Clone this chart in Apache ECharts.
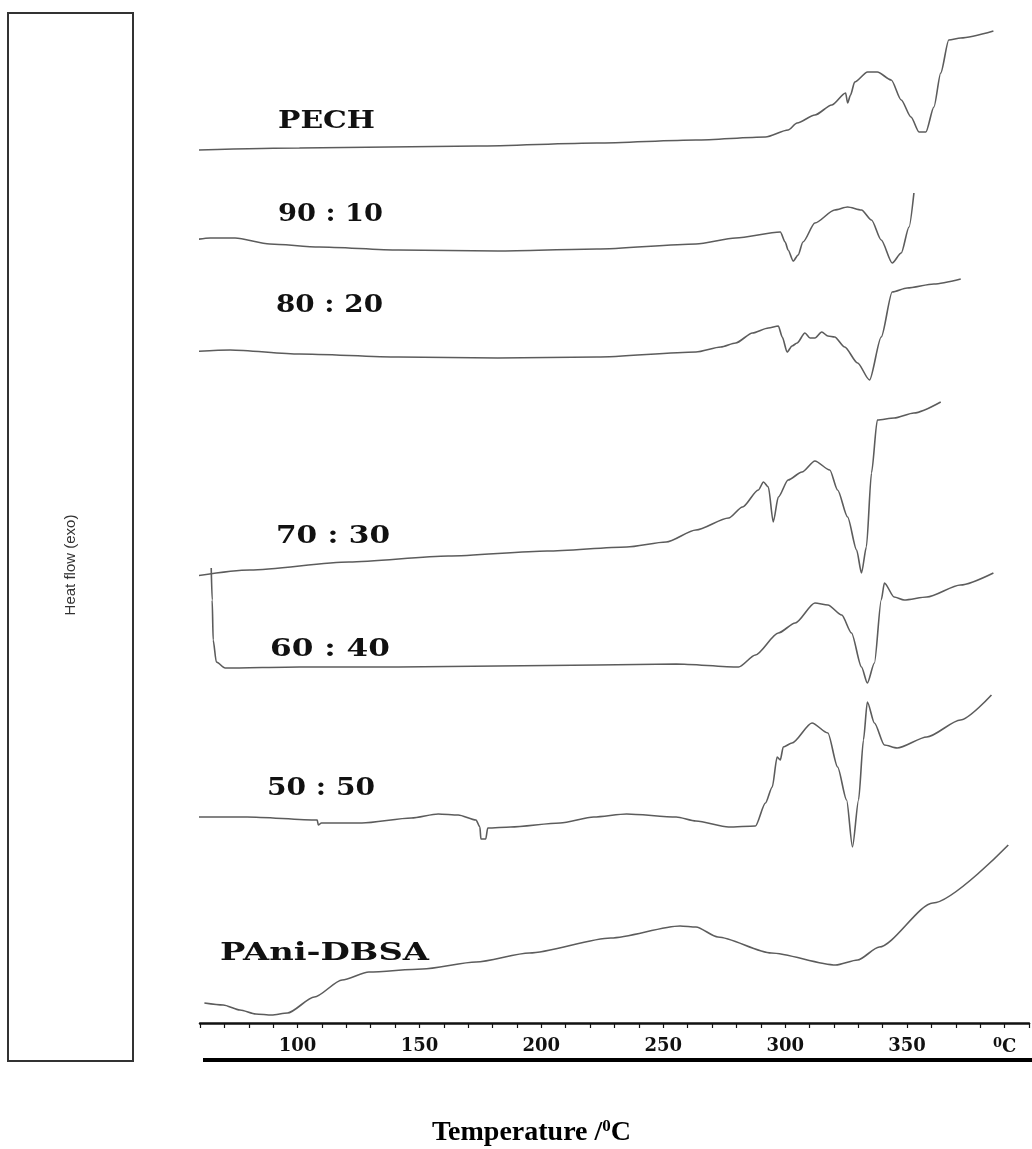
<!DOCTYPE html>
<html>
<head>
<meta charset="utf-8">
<script src="https://cdn.jsdelivr.net/npm/echarts@6/dist/echarts.min.js"></script>
<style>
  html, body { margin: 0; padding: 0; background: #fff; }
  #chart { width: 1032px; height: 1149px; }
</style>
</head>
<body>
<div id="chart"></div>
<script>
// DSC thermograms: [temperature in °C, heat flow (exo up), traces stacked with offsets]
const pech = [
  [58.9, 873], [100.8, 875], [174.0, 877], [222.8, 880], [263.4, 883], [291.9, 886],
  [301.2, 893], [304.9, 900], [312.2, 908], [319.1, 918], [324.8, 930], [325.6, 920],
  [326.8, 928], [328.5, 941], [333.8, 951], [337.8, 951], [343.5, 943], [347.6, 923],
  [351.6, 906], [354.9, 891], [357.7, 891], [361.0, 916], [363.8, 950], [367.1, 983],
  [372.0, 985], [385.4, 992]
];
const blend9010 = [
  [54.9, 782], [64.2, 785], [74.4, 785], [88.6, 779], [108.9, 776], [141.5, 773],
  [182.1, 772], [222.8, 774], [263.4, 779], [279.7, 785], [298.0, 791], [300.0, 781],
  [301.2, 773], [303.3, 762], [305.3, 768], [307.3, 781], [312.2, 800], [320.3, 813],
  [325.6, 816], [331.3, 813], [335.4, 803], [339.4, 783], [343.9, 760], [347.6, 770],
  [350.8, 796], [352.8, 830]
];
const blend8020 = [
  [54.9, 671], [72.4, 673], [100.8, 669], [141.5, 666], [182.1, 665], [222.8, 666],
  [263.4, 671], [273.6, 676], [279.7, 680], [286.6, 690], [293.1, 695], [297.2, 697],
  [298.8, 686], [300.8, 671], [302.8, 677], [304.9, 680], [308.1, 690], [310.2, 685],
  [312.2, 685], [315.0, 691], [317.5, 687], [320.3, 686], [324.4, 676], [329.7, 660],
  [334.6, 643], [339.4, 686], [343.9, 731], [350.0, 735], [361.0, 739], [372.0, 744]
];
const blend7030 = [
  [55.3, 446], [80.5, 453], [121.1, 461], [161.8, 467], [202.4, 472], [235.0, 476],
  [251.2, 481], [263.4, 493], [276.8, 505], [282.5, 516], [289.0, 533], [291.1, 541],
  [293.1, 536], [295.1, 501], [297.2, 526], [301.2, 543], [306.9, 551], [312.2, 562],
  [318.3, 553], [321.5, 533], [325.6, 506], [329.3, 473], [331.3, 450], [333.3, 476],
  [335.4, 550], [337.8, 603], [344.7, 605], [352.8, 610], [363.8, 621]
];
const blend6040 = [
  [64.6, 455], [65.0, 423], [65.4, 383], [66.7, 361], [70.3, 355], [100.8, 356],
  [141.5, 356], [182.1, 357], [222.8, 358], [255.3, 359], [280.9, 356], [287.8, 368],
  [297.2, 390], [304.1, 400], [312.2, 420], [317.5, 418], [323.2, 408], [327.2, 390],
  [331.3, 356], [333.7, 340], [336.6, 360], [339.4, 423], [340.7, 440], [344.7, 426],
  [348.8, 423], [358.1, 426], [371.9, 438], [385.4, 450]
];
const blend5050 = [
  [56.9, 206], [79.3, 206], [108.1, 203], [108.5, 198], [109.8, 200], [126.4, 200],
  [146.7, 205], [157.7, 209], [165.9, 208], [173.2, 203], [174.8, 196], [175.2, 184],
  [177.2, 184], [178.0, 195], [187.4, 196], [207.7, 200], [221.5, 206], [235.0, 209],
  [255.3, 206], [263.4, 202], [276.8, 196], [287.8, 197], [291.9, 220], [294.7, 236],
  [296.7, 266], [298.0, 263], [299.2, 276], [302.8, 280], [311.0, 300], [317.5, 290],
  [321.5, 256], [325.2, 223], [327.6, 176], [330.1, 223], [332.1, 283], [333.7, 321],
  [336.6, 300], [340.7, 278], [345.9, 275], [358.1, 286], [371.9, 303], [384.6, 328]
];
const paniDbsa = [
  [61.8, 20], [69.5, 18], [76.4, 13], [82.9, 9], [89.4, 8], [95.9, 10], [106.9, 26],
  [118.3, 43], [129.3, 51], [151.2, 54], [173.2, 61], [195.1, 70], [228.5, 85],
  [256.9, 97], [263.4, 96], [272.4, 86], [294.3, 70], [320.7, 58], [329.7, 63],
  [338.6, 76], [360.6, 120], [391.5, 178]
];

const traces = [pech, blend9010, blend8020, blend7030, blend6040, blend5050, paniDbsa];
const traceNames = ['PECH', '90 : 10', '80 : 20', '70 : 30', '60 : 40', '50 : 50', 'PAni-DBSA'];
const majorTickLabels = [100, 150, 200, 250, 300, 350];
const unitTickValue = 390;
const xAxisTitle = 'Temperature /{s|0}C';
const yAxisTitle = 'Heat flow (exo)';

// Trace label placement: [left x, right x, vertical centre] in px
const labelBoxes = [
  [278, 375, 122], [278, 383, 215], [276, 383, 306], [276, 390, 537],
  [270, 390, 650], [267, 375, 789], [220, 429, 954]
];

const labelFont = 'bold 24px "DejaVu Serif"';
const measureCtx = document.createElement('canvas').getContext('2d');
measureCtx.font = labelFont;

const traceLabels = traceNames.map((name, i) => {
  const [x0, x1, yc] = labelBoxes[i];
  const w = measureCtx.measureText(name).width;
  return {
    type: 'text',
    x: x0,
    y: yc,
    scaleX: (x1 - x0) / w,
    silent: true,
    style: {
      text: name,
      font: labelFont,
      fill: '#111',
      textAlign: 'left',
      textVerticalAlign: 'middle'
    }
  };
});

const chart = echarts.init(document.getElementById('chart'), null, { renderer: 'canvas' });

chart.setOption({
  animation: false,
  backgroundColor: '#fff',
  title: {
    text: xAxisTitle,
    left: 427,
    top: 1113,
    textStyle: {
      fontFamily: '"Liberation Serif", "Times New Roman", serif',
      fontWeight: 'bold',
      fontSize: 28,
      color: '#000',
      rich: {
        s: {
          fontFamily: '"Liberation Serif", "Times New Roman", serif',
          fontWeight: 'bold',
          fontSize: 17,
          color: '#000',
          verticalAlign: 'top',
          lineHeight: 30
        }
      }
    }
  },
  grid: { left: 200, top: 0, width: 836, height: 1023, containLabel: false },
  xAxis: {
    type: 'value',
    min: 60,
    max: 400,
    interval: 10,
    splitLine: { show: false },
    axisLine: { show: true, onZero: false, lineStyle: { color: '#111', width: 2.5 } },
    axisTick: { show: true, inside: false, length: 5, lineStyle: { color: '#111', width: 1.2 } },
    axisLabel: {
      margin: 14,
      showMinLabel: true,
      showMaxLabel: true,
      fontFamily: '"DejaVu Serif", serif',
      fontWeight: 'bold',
      fontSize: 18,
      color: '#111',
      formatter: function (v) {
        if (majorTickLabels.indexOf(v) >= 0) return String(v);
        if (v === unitTickValue) return '{s|0}{c|C}';
        return '';
      },
      rich: {
        s: { fontFamily: '"DejaVu Serif", serif', fontWeight: 'bold', fontSize: 13, verticalAlign: 'top', lineHeight: 20, color: '#111' },
        c: { fontFamily: '"DejaVu Serif", serif', fontWeight: 'bold', fontSize: 18, lineHeight: 20, color: '#111' }
      }
    }
  },
  yAxis: {
    type: 'value',
    min: 0,
    max: 1023,
    show: false,
    splitLine: { show: false }
  },
  graphic: [
    {
      type: 'rect',
      silent: true,
      shape: { x: 8, y: 13, width: 125, height: 1048 },
      style: { fill: 'none', stroke: '#333', lineWidth: 2 }
    },
    {
      type: 'text',
      x: 71,
      y: 565,
      rotation: Math.PI / 2,
      silent: true,
      style: {
        text: yAxisTitle,
        font: '15px "Liberation Sans", Arial, sans-serif',
        fill: '#333',
        textAlign: 'center',
        textVerticalAlign: 'middle'
      }
    },
    {
      type: 'line',
      silent: true,
      shape: { x1: 203, y1: 1060, x2: 1032, y2: 1060 },
      style: { stroke: '#000', lineWidth: 4 }
    }
  ].concat(traceLabels),
  series: traces.map((d, i) => ({
    type: 'line',
    name: traceNames[i],
    data: d,
    showSymbol: false,
    clip: false,
    smooth: 0.25,
    smoothMonotone: 'x',
    lineStyle: { color: '#5c5c5c', width: 1.6 }
  }))
});
</script>
</body>
</html>
